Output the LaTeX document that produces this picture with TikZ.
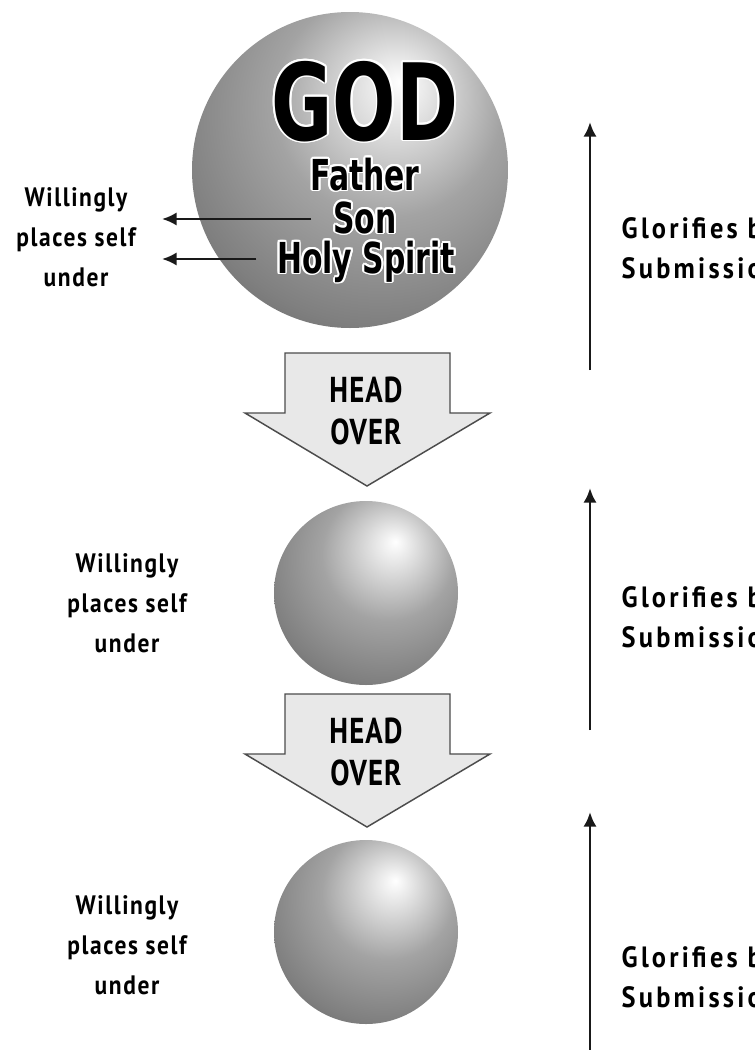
\documentclass[tikz,border=0pt]{standalone}
\usepackage{fontspec}
\setmainfont{PT Sans}
\newfontfamily\handfont{PT Sans}[FakeStretch=0.88, LetterSpace=6]
\newfontfamily\glossfont{PT Sans}[FakeStretch=0.9, LetterSpace=11]
\newfontfamily\arrowfont{PT Sans}[FakeStretch=0.8, LetterSpace=3]
\newfontfamily\heavyfont{DejaVu Sans}[FakeStretch=0.7]
\usepackage[copies]{contour}
\usetikzlibrary{arrows.meta}

% grey ball with the light spot up and to the right
\pgfdeclareradialshading{globe}{\pgfqpoint{8bp}{14bp}}{%
  color(0bp)=(white); color(4bp)=(black!8); color(18bp)=(black!36);
  color(32bp)=(black!50); color(45bp)=(black!67); color(58bp)=(black!85);
  color(72bp)=(black!92)}

\tikzset{
  ball3d/.style={shading=globe},
  sidelabel/.style={align=center, text=black,
    font=\handfont\bfseries\fontsize{20}{30}\selectfont},
  gloss/.style={anchor=west, align=left, text=black,
    font=\glossfont\bfseries\fontsize{22}{30}\selectfont},
  headover/.style={fill=black!9, draw=black!70, line width=1.1pt, line join=miter},
  headtext/.style={align=center, text=black,
    font=\arrowfont\bfseries\fontsize{27}{31}\selectfont},
  godtext/.style={anchor=base, font=\heavyfont\bfseries\fontsize{80}{80}\selectfont},
  nametext/.style={anchor=base, font=\heavyfont\bfseries\fontsize{32}{32}\selectfont},
  uparrow/.style={line width=2.2pt, black!90, -{Latex[length=11pt,width=10pt]}},
  leftarrow/.style={line width=1.9pt, black!90, -{Latex[length=11pt,width=10pt]}},
}
\contourlength{1.4pt}

\begin{document}
\begin{tikzpicture}[x=0.75pt, y=-0.75pt]
  \useasboundingbox (0,0) rectangle (754,1050);
  \clip (0,0) rectangle (754,1050);

  % the three balls
  \shade[ball3d] (350,170) circle[radius=158];
  \shade[ball3d] (366,593) circle[radius=92];
  \shade[ball3d] (366,932) circle[radius=92];

  % names inside the big ball
  \node[godtext] (god) at (365,140) {\contour{white}{GOD}};
  \node[nametext] (father) at (365,190) {\contour{white}{Father}};
  \node[nametext] (son) at (365,233) {\contour{white}{Son}};
  \node[nametext] (holy) at (366,273) {\contour{white}{Holy Spirit}};

  % head over arrows
  \foreach \t [count=\k] in {353,694} {
    \draw[headover] (285,\t) -- ++(165,0) -- ++(0,60) -- ++(40,0)
      -- (367,\t+133) -- (245,\t+60) -- ++(40,0) -- cycle;
    \node[headtext] (head\k) at (366,\t+58) {HEAD\\OVER};
  }

  % left labels
  \node[sidelabel] (under1) at (76,237) {Willingly\\places self\\under};
  \node[sidelabel] (under2) at (127,603) {Willingly\\places self\\under};
  \node[sidelabel] (under3) at (127,945) {Willingly\\places self\\under};

  \coordinate (tip1) at (162,219);
  \coordinate (tip2) at (162,259);
  \draw[leftarrow] ([xshift=-13]son.west |- 0,219) -- (tip1);
  \draw[leftarrow] ([xshift=-12]holy.west |- 0,259) -- (tip2);

  % right side
  \node[gloss] (glory1) at (617,248) {Glorifies by\\Submission};
  \node[gloss] (glory2) at (617,617) {Glorifies by\\Submission};
  \node[gloss] (glory3) at (617,977) {Glorifies by\\Submission};

  \foreach \lo/\hi [count=\k] in {370/122,730/488,1060/812} {
    \coordinate (low\k) at (590,\lo);
    \coordinate (high\k) at (590,\hi);
    \draw[uparrow] (low\k) -- (high\k);
  }
\end{tikzpicture}
\end{document}
